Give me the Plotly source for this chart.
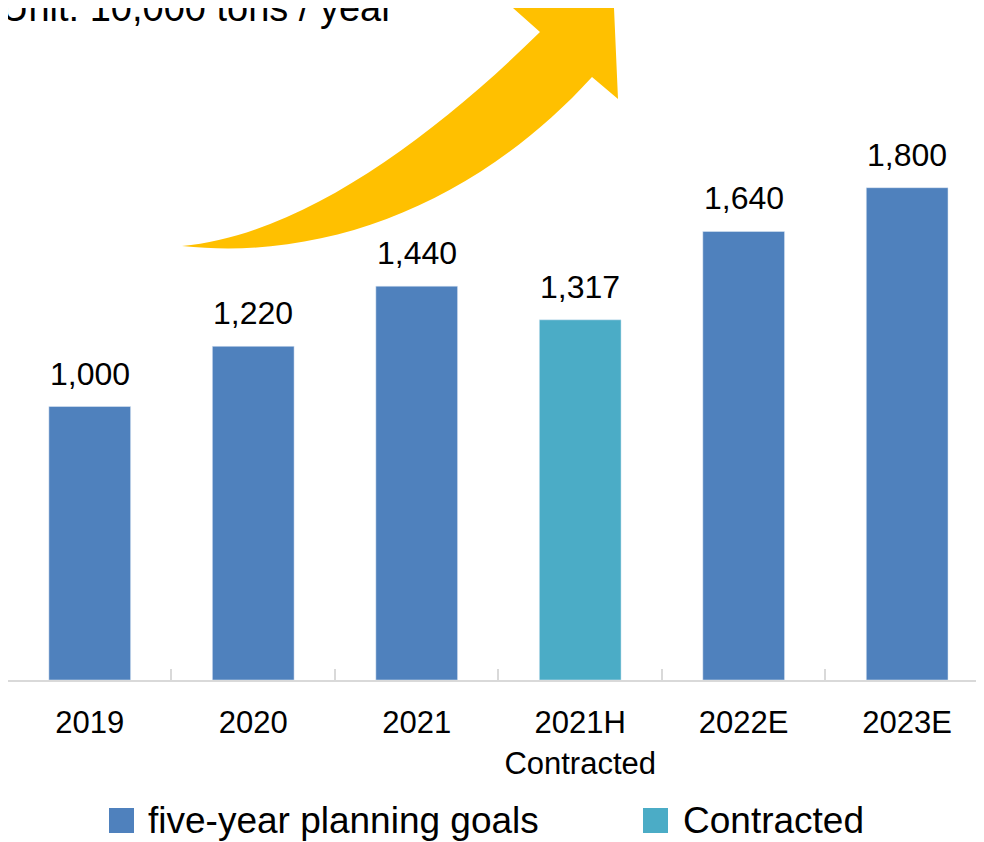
import plotly.graph_objects as go

categories = ["2019", "2020", "2021", "2021H<br>Contracted", "2022E", "2023E"]
plan_x = ["2019", "2020", "2021", "2022E", "2023E"]
plan_values = [1000, 1220, 1440, 1640, 1800]
contract_x = ["2021H<br>Contracted"]
contract_values = [1317]
series_names = ["five-year planning goals", "Contracted"]
unit_text = "Unit: 10,000 tons / year"

BLUE = "#4F81BD"
TEAL = "#4BACC6"
GOLD = "#FFC000"
FONT = "Liberation Sans, Arial, sans-serif"

OFF = 8  # page offset of the figure
W, H = 984 - OFF, 842 - OFF
AXIS_Y = 680  # page pixel of x axis
L, R, T = 0, 0, 0
B = H - (AXIS_Y - OFF)
PW, PH = W - L - R, H - T - B


def px(x, y):
    """page pixel -> paper coords"""
    return (x - OFF - L) / PW, (AXIS_Y - y) / PH


fig = go.Figure()
fig.add_trace(go.Bar(x=plan_x, y=plan_values, name=series_names[0],
                     marker_color=BLUE, width=0.5, showlegend=False))
fig.add_trace(go.Bar(x=contract_x, y=contract_values, name=series_names[1],
                     marker_color=TEAL, width=0.5, showlegend=False))

for xs, ys in ((plan_x, plan_values), (contract_x, contract_values)):
    for xv, yv in zip(xs, ys):
        fig.add_annotation(x=categories.index(xv), y=yv, text=f"{yv:,}", showarrow=False,
                           yanchor="bottom", yshift=13,
                           font=dict(family=FONT, size=32, color="#000"))

# curved arrow
pts = [
    ("M", [(182, 246)]),
    ("C", [(300, 235), (430, 140), (540, 32)]),
    ("L", [(513, 8)]),
    ("L", [(614, 8)]),
    ("L", [(618, 99)]),
    ("L", [(592, 77)]),
    ("C", [(480, 200), (330, 262), (182, 246)]),
]
path = ""
for cmd, ps in pts:
    path += cmd + " " + " ".join("%.5f,%.5f" % px(a, b) for a, b in ps) + " "
path += "Z"
fig.add_shape(type="path", path=path, xref="paper", yref="paper",
              fillcolor=GOLD, line=dict(width=0), layer="above")

# unit text
ux, uy = px(-1, 8)
fig.add_annotation(x=ux, y=uy, xref="paper", yref="paper", text=unit_text,
                   showarrow=False, xanchor="left", yanchor="middle",
                   font=dict(family=FONT, size=38, color="#000"))

# legend (manual, large squares)
legend_items = [(series_names[0], BLUE, 109, 146), (series_names[1], TEAL, 643, 681)]
for name, col, sx, tx in legend_items:
    x0, y0 = px(sx, 833)
    x1, y1 = px(sx + 25, 808)
    fig.add_shape(type="rect", xref="paper", yref="paper", x0=x0, y0=y0, x1=x1, y1=y1,
                  fillcolor=col, line=dict(width=0))
    ax, ay = px(tx, 820)
    fig.add_annotation(x=ax, y=ay, xref="paper", yref="paper", text=name,
                       showarrow=False, xanchor="left", yanchor="middle",
                       font=dict(family=FONT, size=37, color="#000"))

fig.update_layout(
    width=W, height=H,
    margin=dict(l=L, r=R, t=T, b=B, pad=0),
    plot_bgcolor="white", paper_bgcolor="white",
    barmode="overlay",
    showlegend=False,
    font=dict(family=FONT, size=31, color="#000"),
    xaxis=dict(type="category", categoryorder="array", categoryarray=categories,
               range=[-0.5, 5.47], showline=True, linecolor="#D9D9D9", linewidth=2,
               ticks="inside", tickson="boundaries", ticklen=11, tickcolor="#D9D9D9",
               tickwidth=2, showgrid=False, zeroline=False, ticklabelstandoff=14,
               tickfont=dict(family=FONT, size=31, color="#000")),
    yaxis=dict(range=[0, 2457], visible=False, showgrid=False, zeroline=False),
)

fig.write_html("out.html")
